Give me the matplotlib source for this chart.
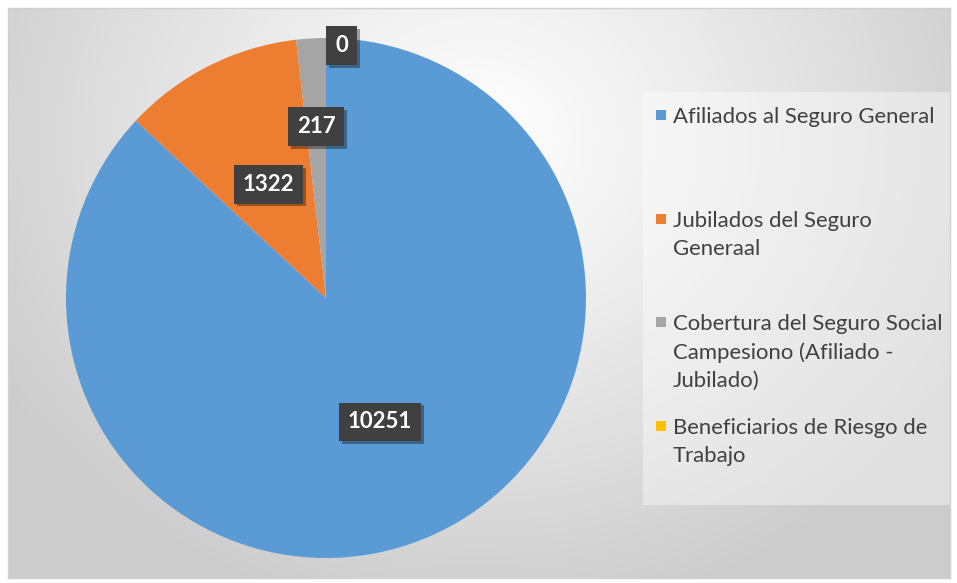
import numpy as np
import matplotlib
matplotlib.use("Agg")
import matplotlib.pyplot as plt
import matplotlib.patches as mpatches
import matplotlib.patheffects as pe

# Datos del gráfico
categorias = ["Afiliados al Seguro General",
              "Jubilados del Seguro\nGeneraal",
              "Cobertura del Seguro Social\nCampesiono (Afiliado -\nJubilado)",
              "Beneficiarios de Riesgo de\nTrabajo"]
valores = [10251, 1322, 217, 0]
colores = ["#5B9BD5", "#ED7D31", "#A5A5A5", "#FFC000"]

# distancia radial de cada etiqueta (fracción del radio)
dist_etiquetas = [0.52, 0.49, 0.66, 0.97]

W, H = 957, 583
fig = plt.figure(figsize=(W / 100, H / 100), dpi=100)
fig.patch.set_facecolor("white")

# Fondo con degradado radial
x0, y0, x1, y1 = 8, 8, 950, 578
bg = fig.add_axes([x0 / W, 1 - y1 / H, (x1 - x0) / W, (y1 - y0) / H])
yy, xx = np.mgrid[0:y1 - y0, 0:x1 - x0]
cx, cy = 470, 130
d = np.sqrt((xx - cx) ** 2 + ((yy - cy) * 1.15) ** 2)
d = np.clip(d / 560, 0, 1)
g = 1.0 - 0.2 * d ** 1.1
bg.imshow(np.dstack([g, g, g]), aspect="auto", interpolation="bilinear")
bg.set_xticks([])
bg.set_yticks([])
for s in bg.spines.values():
    s.set_color("#d0d0d0")
    s.set_linewidth(1)

# Pastel
cxp, cyp, r = 326, 298, 260
ax = fig.add_axes([(cxp - r) / W, 1 - (cyp + r) / H, 2 * r / W, 2 * r / H])
ax.set_facecolor("none")
wedges, _ = ax.pie(valores, colors=colores, startangle=90, counterclock=False,
                   radius=1, wedgeprops=dict(linewidth=0))
ax.set_xlim(-1, 1)
ax.set_ylim(-1, 1)
ax.set_aspect("equal")
ax.axis("off")

caja = dict(boxstyle="square,pad=0.4", facecolor="#404040", edgecolor="none")
sombra = [pe.withSimplePatchShadow(offset=(2, -2), shadow_rgbFace="#000000", alpha=0.35)]
fuente_etq = ["Lato", "DejaVu Sans"]

for w, v, dist in zip(wedges, valores, dist_etiquetas):
    ang = np.deg2rad((w.theta1 + w.theta2) / 2)
    px, py = dist * np.cos(ang), dist * np.sin(ang)
    if v == 0:
        px += 0.06
        t = ax.annotate(str(v), xy=(0, 1.0), xytext=(px, py), ha="center", va="center",
                        fontsize=16, fontweight="bold", color="white", family=fuente_etq,
                        bbox=caja,
                        arrowprops=dict(arrowstyle="-", color="#a5a5a5", lw=1,
                                        shrinkA=0, shrinkB=0))
    else:
        t = ax.text(px, py, str(v), ha="center", va="center", fontsize=16,
                    fontweight="bold", color="white", family=fuente_etq, bbox=caja)
    t.get_bbox_patch().set_path_effects(sombra)

# Leyenda (caja y entradas)
lx0, ly0, lx1, ly1 = 643, 92, 950, 505
fig.patches.append(mpatches.Rectangle((lx0 / W, 1 - ly1 / H), (lx1 - lx0) / W, (ly1 - ly0) / H,
                                      transform=fig.transFigure, facecolor="white",
                                      alpha=0.4, edgecolor="none"))
y_leyenda = [115, 219, 322, 426]
for cat, col, yl in zip(categorias, colores, y_leyenda):
    fig.patches.append(mpatches.Rectangle((656 / W, 1 - (yl + 5) / H), 10 / W, 10 / H,
                                          transform=fig.transFigure, facecolor=col,
                                          edgecolor="none"))
    fig.text(673 / W, 1 - (yl - 8) / H, cat, ha="left", va="top", fontsize=15.9,
             color="#404040", family="Lato", linespacing=1.5)

fig.savefig("out.png", dpi=100)
